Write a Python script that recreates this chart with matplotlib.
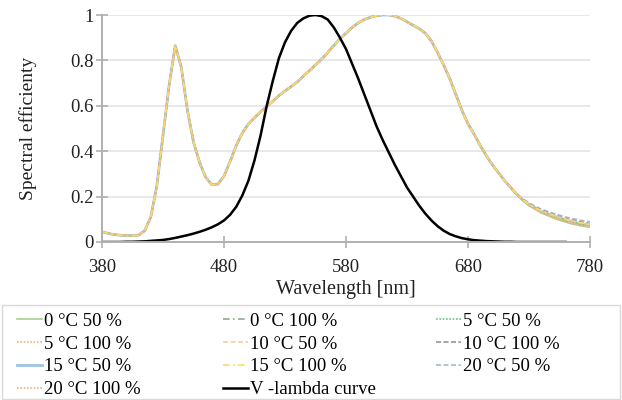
import matplotlib
matplotlib.use("Agg")
import matplotlib.pyplot as plt
from matplotlib.patches import Rectangle

plt.rcParams['font.family'] = ['Liberation Serif', 'DejaVu Serif']

# ---------------- data ----------------
wavelength = list(range(380, 785, 5))          # nm, 380..780

spd_common = [0.045, 0.038, 0.033, 0.030, 0.028, 0.028, 0.030, 0.050, 0.110, 0.250,
              0.470, 0.690, 0.865, 0.770, 0.580, 0.440, 0.350, 0.285, 0.252, 0.255,
              0.290, 0.355, 0.425, 0.480, 0.520, 0.548, 0.573, 0.597, 0.620, 0.645,
              0.665, 0.685, 0.705, 0.730, 0.755, 0.780, 0.805, 0.835, 0.865, 0.895,
              0.920, 0.945, 0.965, 0.980, 0.990, 0.997, 1.000, 1.000, 0.995, 0.985,
              0.970, 0.955, 0.940, 0.920, 0.885, 0.835, 0.780, 0.720, 0.650, 0.580,
              0.520, 0.475, 0.425, 0.380, 0.340, 0.305, 0.270, 0.240, 0.210]   # 380..720

# red-end tails (720..780) per series
tail_0_50 = [0.210, 0.182, 0.160, 0.144, 0.128, 0.117, 0.106, 0.096, 0.088, 0.080, 0.074, 0.069, 0.065]
tail_0_100 = [0.210, 0.184, 0.163, 0.147, 0.132, 0.121, 0.110, 0.101, 0.093, 0.085, 0.079, 0.074, 0.069]
tail_5_50 = [0.210, 0.185, 0.165, 0.150, 0.135, 0.125, 0.115, 0.105, 0.097, 0.090, 0.083, 0.078, 0.073]
tail_5_100 = [0.210, 0.183, 0.161, 0.145, 0.130, 0.119, 0.108, 0.098, 0.090, 0.082, 0.076, 0.071, 0.067]
tail_10_50 = [0.210, 0.186, 0.166, 0.151, 0.137, 0.127, 0.117, 0.108, 0.100, 0.093, 0.087, 0.082, 0.077]
tail_10_100 = [0.210, 0.187, 0.168, 0.153, 0.140, 0.130, 0.120, 0.111, 0.103, 0.097, 0.091, 0.086, 0.081]
tail_15_50 = [0.210, 0.185, 0.165, 0.150, 0.135, 0.125, 0.115, 0.105, 0.097, 0.090, 0.083, 0.078, 0.073]
tail_15_100 = [0.210, 0.186, 0.166, 0.151, 0.137, 0.127, 0.117, 0.108, 0.100, 0.093, 0.087, 0.082, 0.077]
tail_20_50 = [0.210, 0.190, 0.172, 0.158, 0.145, 0.135, 0.126, 0.118, 0.110, 0.104, 0.098, 0.093, 0.089]
tail_20_100 = [0.210, 0.184, 0.163, 0.147, 0.132, 0.121, 0.110, 0.101, 0.093, 0.085, 0.079, 0.074, 0.069]

series_labels = ["0 °C 50 %", "0 °C 100 %", "5 °C 50 %", "5 °C 100 %", "10 °C 50 %",
                 "10 °C 100 %", "15 °C 50 %", "15 °C 100 %", "20 °C 50 %", "20 °C 100 %"]
series_tails = [tail_0_50, tail_0_100, tail_5_50, tail_5_100, tail_10_50,
                tail_10_100, tail_15_50, tail_15_100, tail_20_50, tail_20_100]

v_wavelength = list(range(380, 765, 5))        # 380..760
v_lambda = [0.000, 0.000, 0.000, 0.000, 0.001, 0.001, 0.002, 0.003, 0.005, 0.007,
            0.009, 0.013, 0.018, 0.024, 0.030, 0.037, 0.045, 0.054, 0.065, 0.078,
            0.095, 0.120, 0.155, 0.205, 0.270, 0.360, 0.470, 0.600, 0.710, 0.810,
            0.880, 0.930, 0.965, 0.985, 0.997, 1.000, 0.995, 0.980, 0.945, 0.900,
            0.850, 0.785, 0.720, 0.650, 0.580, 0.510, 0.450, 0.395, 0.340, 0.290,
            0.240, 0.200, 0.160, 0.125, 0.095, 0.070, 0.050, 0.035, 0.025, 0.017,
            0.012, 0.008, 0.006, 0.004, 0.003, 0.002, 0.001, 0.001, 0.000, 0.000,
            0.000, 0.000, 0.000, 0.000, 0.000, 0.000, 0.000]

x_ticks = [380, 480, 580, 680, 780]
y_ticks = [0, 0.2, 0.4, 0.6, 0.8, 1]
y_ticklabels = ["0", "0.2", "0.4", "0.6", "0.8", "1"]

# ---------------- styles ----------------
styles = [
    dict(color='#a9d18e', ls='-', lw=1.2),
    dict(color='#8fa98c', ls=(0, (4, 2, 1, 2)), lw=1.2),
    dict(color='#6cc47c', ls=(0, (1, 1)), lw=1.2),
    dict(color='#f4b183', ls=(0, (1, 1)), lw=1.2),
    dict(color='#f8cbad', ls=(0, (3, 1.5)), lw=1.2),
    dict(color='#8c9c8c', ls=(0, (3, 1.5)), lw=1.2),
    dict(color='#9dc3e6', ls='-', lw=2.0),
    dict(color='#ffd966', ls=(0, (4, 2, 1, 2)), lw=1.2),
    dict(color='#a5b8d0', ls=(0, (3, 1.5)), lw=1.2),
    dict(color='#f4b183', ls=(0, (1, 1)), lw=1.2),
]
draw_order = [6, 8, 1, 5, 0, 2, 4, 9, 3, 7]

fig = plt.figure(figsize=(6.22, 4.0), dpi=100)
ax = fig.add_axes([0.164, 0.395, 0.7846, 0.5675])

handles = [None] * len(series_labels)
for i in draw_order:
    ys = spd_common[:-1] + series_tails[i]
    h, = ax.plot(wavelength, ys, label=series_labels[i], **styles[i])
    handles[i] = h
hv, = ax.plot(v_wavelength, v_lambda, color='black', lw=1.8, label='V -lambda curve')
handles.append(hv)

ax.set_xlim(380, 780)
ax.set_ylim(0, 1)
ax.set_xticks(x_ticks)
ax.set_yticks(y_ticks)
ax.set_yticklabels(y_ticklabels)
ax.grid(axis='y', color='#e6e6e6', lw=1.3)
ax.set_axisbelow(True)
for s in ['top', 'right']:
    ax.spines[s].set_visible(False)
for s in ['left', 'bottom']:
    ax.spines[s].set_color('#b0b0b0')
    ax.spines[s].set_linewidth(1.4)
ax.tick_params(direction='inout', length=8, width=1.2, color='#b0b0b0',
               labelsize=13.5, labelcolor='#222222', pad=2)
ax.tick_params(axis='x', pad=8)
ax.set_xlabel('Wavelength [nm]', fontsize=14.5, color='#222222', labelpad=3)
ax.set_ylabel('Spectral efficienty', fontsize=14, color='#222222', labelpad=24)

# legend frame
fig.patches.append(Rectangle((0.003, 0.003), 0.994, 0.235, transform=fig.transFigure,
                             fill=False, edgecolor='#d9d9d9', lw=1.0))

col_members = [[0, 3, 6, 9], [1, 4, 7, 10], [2, 5, 8]]
col_x = [17 / 622, 223 / 622, 436 / 622]
for cx, members in zip(col_x, col_members):
    fig.legend([handles[i] for i in members], [handles[i].get_label() for i in members],
               loc='upper left', bbox_to_anchor=(cx, 0.218), bbox_transform=fig.transFigure,
               frameon=False, fontsize=13.5, handlelength=1.35, handletextpad=0.1,
               labelspacing=0.3, borderpad=0, borderaxespad=0)

fig.savefig('out.png', dpi=100)
